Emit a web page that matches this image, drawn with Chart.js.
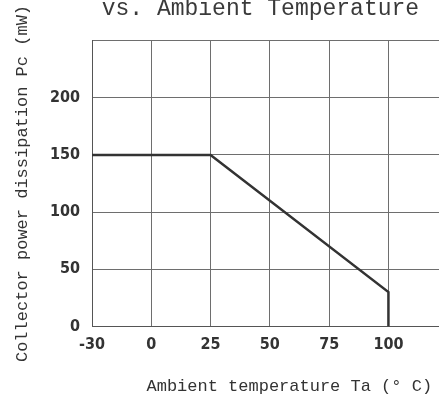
<!DOCTYPE html>
<html>
<head>
<meta charset="utf-8">
<script src="https://cdn.jsdelivr.net/npm/chart.js@4.4.1/dist/chart.umd.min.js"></script>
<style>
  html, body { margin: 0; padding: 0; background: #fff; overflow: hidden; }
  #contenedor { position: absolute; left: 0; top: -6px; width: 516px; height: 403px; }
</style>
</head>
<body>
<div id="contenedor"><canvas id="grafica"></canvas></div>
<script>
  // categorias del eje X (espaciado igual, como en la hoja de datos; la derecha queda cortada)
  const temperaturas = ['-30', '0', '25', '50', '75', '100', '', ''];
  // curva de disipacion: Ta -> Pc (mW)
  const puntosTa = ['-30', '25', '100', '100'];
  const potencia = [150, 150, 30, 0];
  const ticksY = [0, 50, 100, 150, 200, 250];

  const fuenteMono = "'Liberation Mono', 'DejaVu Sans Mono', monospace";
  const fuenteNum = "'DejaVu Sans Condensed', 'Liberation Sans Narrow', 'Liberation Sans', sans-serif";

  const ctx = document.getElementById('grafica').getContext('2d');
  window.miGrafica = new Chart(ctx, {
    type: 'line',
    data: {
      labels: temperaturas,
      datasets: [{
        label: 'Pc',
        data: puntosTa.map((t, i) => ({ x: t, y: potencia[i] })),
        borderColor: '#333',
        borderWidth: 2.5,
        pointRadius: 0,
        tension: 0,
        fill: false
      }]
    },
    options: {
      responsive: true,
      maintainAspectRatio: false,
      animation: false,
      layout: { padding: { right: 9 } },
      plugins: {
        legend: { display: false },
        tooltip: { enabled: false },
        title: {
          display: true,
          text: ' vs. Ambient Temperature',
          color: '#3a3a3a',
          font: { family: fuenteMono, size: 23, weight: 'normal' },
          padding: { top: 1, bottom: 18 },
          align: 'center'
        }
      },
      scales: {
        x: {
          type: 'category',
          offset: false,
          grid: { color: '#6e6e6e', lineWidth: 1, drawTicks: false, offset: false },
          border: { color: '#555', width: 1 },
          ticks: {
            color: '#333',
            font: { family: fuenteNum, size: 16, weight: 'bold' },
            padding: 9,
            maxRotation: 0,
            autoSkip: false
          },
          title: {
            display: true,
            text: 'Ambient temperature Ta (° C)  ',
            color: '#333',
            font: { family: fuenteMono, size: 17 },
            padding: { top: 13, bottom: 0 }
          }
        },
        y: {
          min: 0,
          max: 250,
          afterBuildTicks: s => { s.ticks = ticksY.map(v => ({ value: v })); },
          afterFit: s => { s.width = 92; },
          grid: { color: '#6e6e6e', lineWidth: 1, drawTicks: false },
          border: { color: '#555', width: 1 },
          ticks: {
            color: '#333',
            font: { family: fuenteNum, size: 16, weight: 'bold' },
            padding: 12,
            callback: v => (v === 250 ? '' : v)
          },
          title: {
            display: true,
            text: 'Collector power dissipation Pc (mW)',
            color: '#333',
            font: { family: fuenteMono, size: 17 },
            padding: { top: 12, bottom: 0 }
          }
        }
      }
    }
  });
</script>
</body>
</html>
